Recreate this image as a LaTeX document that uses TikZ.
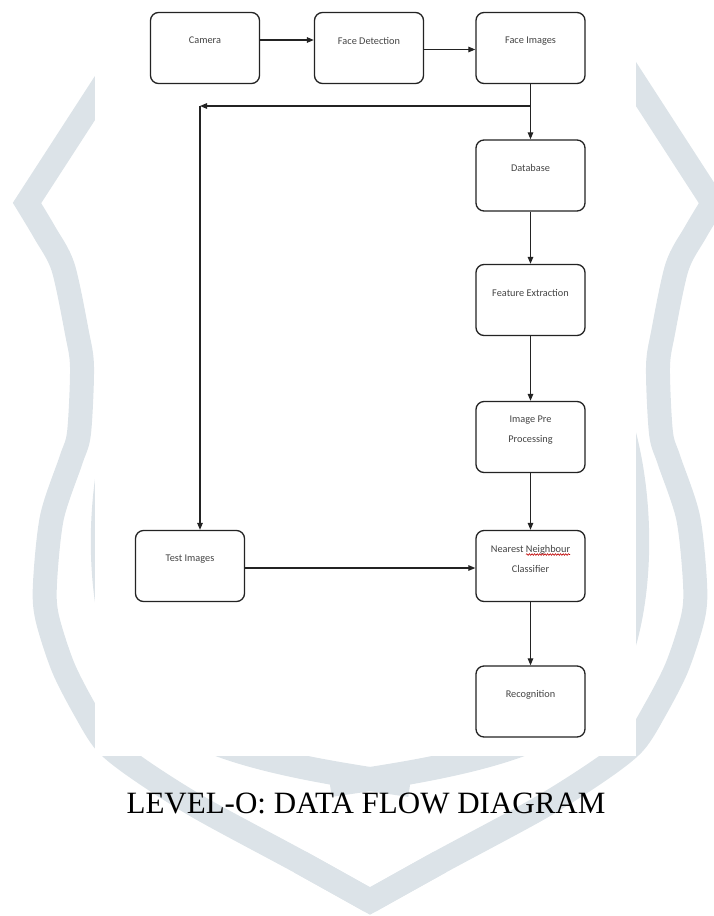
\documentclass[tikz,border=0pt]{standalone}
\usepackage{fontspec}
\setmainfont{Carlito}
\newfontfamily\titlefont{Liberation Serif}
\usetikzlibrary{arrows.meta,decorations.pathmorphing}
\definecolor{wm}{RGB}{220,227,232}
\definecolor{ink}{RGB}{35,35,35}
\begin{document}
\begin{tikzpicture}[x=1pt,y=-1pt,
  proc/.style={draw=ink, line width=1.3pt, rounded corners=8pt,
    minimum width=109pt, minimum height=71pt, inner sep=0pt,
    font=\fontsize{10.3}{20}\selectfont, text=ink!85, align=center,
    text depth=15pt},
  flow/.style={draw=ink, line width=1.2pt, -{Triangle[length=7pt,width=5.5pt]}},
  band/.style={draw=wm, line width=24pt, line join=miter, miter limit=10}
]
\useasboundingbox (0,0) rectangle (713,916);
% watermark
\foreach \s in {1,-1}{
  \begin{scope}[shift={(370,0)}, xscale=\s]
    \draw[band] (-220,13) -- plot[smooth] coordinates {(-343,203) (-325,233) (-307,267) (-293,333) (-288,367) (-291,433) (-299,460) (-318,517) (-325,583) (-323,617) (-307,667) (-285,710) (-264,743) (-230,770) (-170,808) (-70,862) (0,901)};
    \draw[band] (-250,420) .. controls (-275,500) and (-275,620) .. (-235,690) .. controls (-190,745) and (-100,765) .. (40,785);
  \end{scope}
}
\draw[band, line join=miter] (-70+370,862) -- (370,901) -- (70+370,862);
\fill[white] (95,0) rectangle (636,756);
% boxes
\node[proc] (cam)  at (205,48)    {Camera};
\node[proc] (fd)   at (369,48)    {Face Detection};
\node[proc] (fi)   at (530.5,48)  {Face Images};
\node[proc] (db)   at (530.5,175.5) {Database};
\node[proc] (fe)   at (530.5,300) {Feature Extraction};
\node[proc] (ipp)  at (530.5,437) {Image Pre\\Processing};
\node[proc] (nn)   at (530.5,566) {Nearest Neighbour\\Classifier};
\node[proc] (test) at (190,566)   {Test Images};
\node[proc] (rec)  at (530.5,701.5) {Recognition};
\coordinate (split) at (530.5,106);
\coordinate (corner) at (200,106);
% connectors
\draw[flow] ([yshift=8pt]cam.east) -- ([yshift=8pt]fd.west);
\draw[flow] ([yshift=-1.5pt]fd.east) -- ([yshift=-1.5pt]fi.west);
\draw[flow] (fi.south) -- (db.north);
\draw[flow] (split) -- (corner);
\draw[flow] (corner) -- (corner |- test.north);
\draw[flow] (db.south) -- (fe.north);
\draw[flow] (fe.south) -- (ipp.north);
\draw[flow] (ipp.south) -- (nn.north);
\draw[flow] ([yshift=-2pt]test.east) -- ([yshift=-2pt]nn.west);
\draw[flow] (nn.south) -- (rec.north);
% spell-check squiggle
\draw[red!75!black, line width=0.6pt, decorate, decoration={snake, amplitude=0.8pt, segment length=2.6pt}]
  ([xshift=-4.5pt,yshift=11.5pt]nn.center) -- ([xshift=39.5pt,yshift=11.5pt]nn.center);
% title
\node[font=\titlefont\fontsize{31}{31}\selectfont, anchor=base] (title) at (366,813) {LEVEL-O: DATA FLOW DIAGRAM};
\end{tikzpicture}
\end{document}
